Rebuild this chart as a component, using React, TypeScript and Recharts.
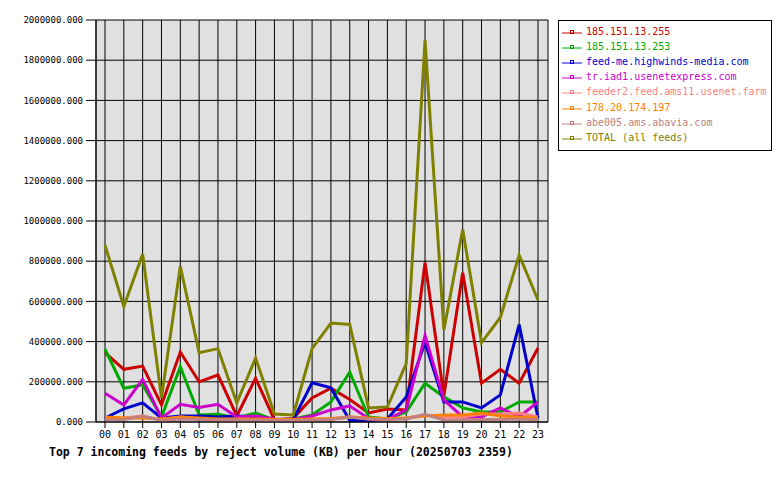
import React from 'react';
import { LineChart, Line, XAxis, YAxis, CartesianGrid } from 'recharts';

const hours = ['00','01','02','03','04','05','06','07','08','09','10','11','12','13','14','15','16','17','18','19','20','21','22','23'];

const s185_255 = [345000, 262000, 278000, 85000, 348000, 200000, 234000, 30000, 218000, 10000, 18000, 120000, 168000, 112000, 45000, 65000, 60000, 793000, 130000, 743000, 193000, 262000, 193000, 368000];
const s185_253 = [362000, 168000, 185000, 25000, 275000, 35000, 38000, 20000, 45000, 10000, 15000, 35000, 100000, 248000, 25000, 15000, 50000, 193000, 125000, 70000, 50000, 50000, 100000, 100000];
const sFeedMe = [20000, 65000, 95000, 20000, 30000, 30000, 25000, 30000, 25000, 10000, 12000, 195000, 170000, 8000, 8000, 15000, 125000, 395000, 100000, 100000, 70000, 135000, 485000, 20000];
const sIad1 = [143000, 85000, 212000, 20000, 88000, 72000, 88000, 25000, 30000, 15000, 12000, 30000, 60000, 80000, 18000, 12000, 60000, 430000, 110000, 25000, 25000, 70000, 25000, 100000];
const sFeeder2 = [15000, 20000, 30000, 10000, 25000, 15000, 10000, 10000, 10000, 10000, 10000, 10000, 15000, 25000, 15000, 15000, 20000, 35000, 25000, 25000, 40000, 40000, 45000, 25000];
const s178 = [25000, 20000, 20000, 15000, 25000, 20000, 15000, 15000, 15000, 12000, 12000, 15000, 18000, 25000, 20000, 18000, 20000, 30000, 35000, 35000, 45000, 30000, 25000, 20000];
const sAbe005 = [10000, 12000, 30000, 8000, 15000, 12000, 10000, 10000, 10000, 8000, 8000, 10000, 12000, 25000, 15000, 12000, 15000, 38000, 10000, 10000, 12000, 12000, 15000, 10000];
const sTotal = [880000, 575000, 835000, 120000, 775000, 345000, 365000, 95000, 318000, 40000, 35000, 365000, 492000, 485000, 70000, 75000, 290000, 1900000, 458000, 958000, 395000, 520000, 830000, 607000];

const yTicks = [0, 200000, 400000, 600000, 800000, 1000000, 1200000, 1400000, 1600000, 1800000, 2000000];

const seriesNames = ['185.151.13.255', '185.151.13.253', 'feed-me.highwinds-media.com', 'tr.iad1.usenetexpress.com', 'feeder2.feed.ams11.usenet.farm', '178.20.174.197', 'abe005.ams.abavia.com', 'TOTAL (all feeds)'];
const seriesKeys = ['a', 'b', 'c', 'd', 'e', 'f', 'g', 'total'];
const seriesColors = ['#cc0000', '#00aa00', '#0000cc', '#cc00cc', '#ff8080', '#ff8000', '#c08080', '#808000'];
const seriesValues = [s185_255, s185_253, sFeedMe, sIad1, sFeeder2, s178, sAbe005, sTotal];

const data = hours.map((h, i) => {
  const row: Record<string, string | number> = { hour: h };
  seriesKeys.forEach((k, j) => {
    row[k] = seriesValues[j][i];
  });
  return row;
});

const mono = '"DejaVu Sans Mono", monospace';

export default function App() {
  return (
    <div style={{ position: 'absolute', left: 0, top: 0, width: 780, height: 480, background: '#fff' }}>
      <LineChart width={780} height={480} data={data} margin={{ top: 20, right: 232, bottom: 28, left: 0 }}>
        <CartesianGrid stroke="#000" strokeWidth={1} fill="#e0e0e0" fillOpacity={1} />
        <XAxis
          dataKey="hour"
          interval={0}
          padding={{ left: 9, right: 10 }}
          height={30}
          tickSize={6}
          tickMargin={3}
          stroke="#000"
          tick={{ fill: '#000', fontFamily: mono, fontSize: 10 }}
        />
        <YAxis
          width={96}
          domain={[0, 2000000]}
          ticks={yTicks}
          interval={0}
          tickSize={10}
          tickMargin={3}
          stroke="#000"
          tickFormatter={(v: number) => v.toFixed(3)}
          tick={{ fill: '#000', fontFamily: mono, fontSize: 9 }}
        />
        <YAxis yAxisId="r" orientation="right" width={0} tick={false} tickLine={false} stroke="#000" />
        {seriesKeys.map((k, j) => (
          <Line
            key={k}
            dataKey={k}
            name={seriesNames[j]}
            stroke={seriesColors[j]}
            strokeWidth={3}
            dot={false}
            type="linear"
            isAnimationActive={false}
          />
        ))}
      </LineChart>
      <div
        style={{
          position: 'absolute',
          left: 558,
          top: 20,
          width: 212,
          height: 129,
          border: '1px solid #000',
          background: '#fff',
        }}
      >
        {seriesNames.map((n, j) => (
          <div
            key={n}
            style={{
              position: 'absolute',
              left: 3,
              top: 4 + j * 15.1,
              height: 14,
              display: 'flex',
              alignItems: 'center',
              whiteSpace: 'nowrap',
            }}
          >
            <svg width={24} height={14} style={{ display: 'block' }}>
              <line x1={0} y1={8} x2={20} y2={8} stroke={seriesColors[j]} strokeWidth={1} />
              <rect x={8.5} y={5.5} width={3} height={3} fill="none" stroke={seriesColors[j]} strokeWidth={1} />
            </svg>
            <span style={{ fontFamily: mono, fontSize: 10, color: seriesColors[j], lineHeight: '14px' }}>{n}</span>
          </div>
        ))}
      </div>
      <div
        style={{
          position: 'absolute',
          left: 49,
          top: 445,
          fontFamily: mono,
          fontWeight: 'bold',
          fontSize: 11.5,
          lineHeight: '14px',
          color: '#000',
          whiteSpace: 'nowrap',
        }}
      >
        Top 7 incoming feeds by reject volume (KB) per hour (20250703 2359)
      </div>
    </div>
  );
}
